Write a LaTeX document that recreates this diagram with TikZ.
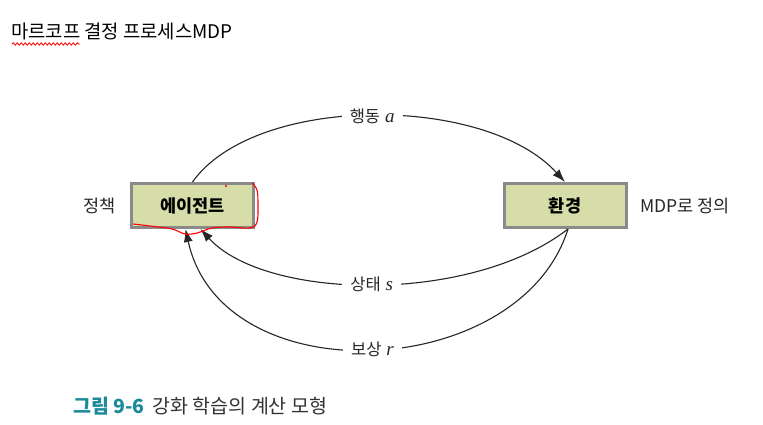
\documentclass[tikz,border=0pt]{standalone}
\usepackage{fontspec}
\setmainfont{Liberation Serif}
\newfontfamily\kr{Noto Sans CJK KR}
\usetikzlibrary{arrows.meta,decorations.pathmorphing,calc}
\definecolor{boxfill}{HTML}{D6DDA8}
\definecolor{boxline}{HTML}{8A8A8A}
\definecolor{teal}{HTML}{1B8A9B}
\definecolor{capgray}{HTML}{333333}
\newcommand{\mv}[1]{\hspace{0.3em}{\rmfamily\itshape\fontsize{19}{21}\selectfont #1}}
\begin{document}
\begin{tikzpicture}[x=1pt,y=-1pt,
  box/.style={draw=boxline,fill=boxfill,line width=3pt,minimum width=122pt,minimum height=44pt,inner sep=0pt,font=\kr\bfseries\fontsize{17.5}{19}\selectfont},
  lbl/.style={font=\kr\fontsize{17.5}{19}\selectfont,text=black!85},
  conn/.style={line width=1.1pt,black!85,-{Latex[length=13pt,width=9pt]}},
  brk/.style={fill=white,inner xsep=8pt,inner ysep=3pt,font=\kr\fontsize{16.5}{18}\selectfont,text=black!85}]
\useasboundingbox[fill=white] (0,0) rectangle (763,425);
% title
\node[anchor=west,inner sep=0pt,font=\kr\fontsize{18.8}{20}\selectfont] (title) at (11,31) {마르코프 결정 프로세스MDP};
\draw[red,line width=0.8pt,decorate,decoration={snake,amplitude=1.2pt,segment length=4pt}] (12,44) -- (80,44);
% boxes
\node[box] (agent) at (192.5,205.5) {에이전트};
\node[box] (env) at (565,205.5) {환경};
\node[lbl,anchor=east] (policy) at (119,206) {정책};
\node[lbl,anchor=west] (mdp) at (637,206) {MDP로 정의};
% connectors
\draw[conn] (agent.north) .. controls (255,94) and (485,94) .. (env.north)
  node[brk,pos=0.5] (act) {행동\mv{a}};
\draw[conn] ([xshift=3pt]env.south) .. controls (470,305) and (265,300) .. ([xshift=8pt]agent.south)
  node[brk,pos=0.5] (st) {상태\mv{s}};
\draw[conn] ([xshift=3pt]env.south) .. controls (520,382) and (222,396) .. ([xshift=-7pt]agent.south)
  node[brk,pos=0.5] (rw) {보상\mv{r}};
% red annotation
\draw[red,line width=1.1pt,line join=round] plot[smooth,tension=0.6] coordinates {(252,183) (257,190) (258,205) (257,222) (250,228) (230,227) (212,228) (197,233) (185,234) (172,229) (150,226) (133,224)};
\fill[red] (226,186) circle (1.2pt);
% caption
\node[anchor=west,inner sep=0pt,font=\kr\fontsize{19.5}{21}\selectfont] (cap) at (73,406) {{\color{teal}\bfseries 그림 9-6}\hspace{0.4em}{\color{capgray}강화 학습의 계산 모형}};
\end{tikzpicture}
\end{document}
